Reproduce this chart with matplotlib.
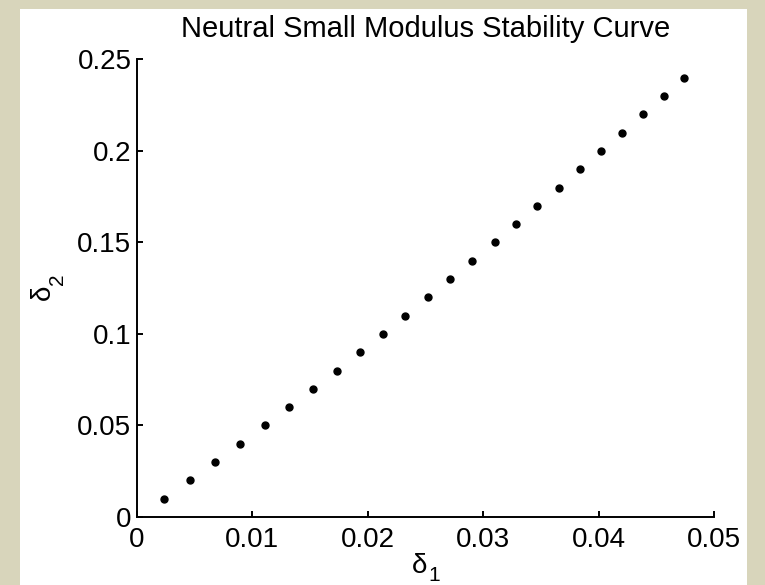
import matplotlib
matplotlib.use("Agg")
import matplotlib.pyplot as plt
from matplotlib.patches import Rectangle

plt.rcParams['font.family'] = ['Liberation Sans', 'DejaVu Sans']

title = "Neutral Small Modulus Stability Curve"
delta1 = [0.00231, 0.00457, 0.00679, 0.00893, 0.01107, 0.01317, 0.01523, 0.01730,
          0.01930, 0.02132, 0.02325, 0.02523, 0.02715, 0.02906, 0.03100, 0.03284,
          0.03469, 0.03657, 0.03839, 0.04021, 0.04200, 0.04385, 0.04564, 0.04740]
delta2 = [0.01, 0.02, 0.03, 0.04, 0.05, 0.06, 0.07, 0.08, 0.09, 0.10, 0.11, 0.12,
          0.13, 0.14, 0.15, 0.16, 0.17, 0.18, 0.19, 0.20, 0.21, 0.22, 0.23, 0.24]
xticks = [0, 0.01, 0.02, 0.03, 0.04, 0.05]
xticklabels = ['0', '0.01', '0.02', '0.03', '0.04', '0.05']
yticks = [0, 0.05, 0.1, 0.15, 0.2, 0.25]
yticklabels = ['0', '0.05', '0.1', '0.15', '0.2', '0.25']

W, H = 765, 585
fig = plt.figure(figsize=(W / 100, H / 100), dpi=100)
fig.patch.set_facecolor('#d8d5bb')
fig.patches.append(Rectangle((20 / W, 0), (747 - 20) / W, 1 - 9 / H,
                             transform=fig.transFigure, facecolor='white',
                             edgecolor='none', zorder=-10))

ax = fig.add_axes([137 / W, 1 - 517 / H, (714 - 137) / W, (517 - 59.4) / H])
ax.set_zorder(5)
ax.set_facecolor('white')
ax.plot(delta1, delta2, 'o', color='black', markersize=5, clip_on=False)

ax.set_xlim(0, 0.05)
ax.set_ylim(0, 0.25)
ax.set_xticks(xticks)
ax.set_xticklabels(xticklabels)
ax.set_yticks(yticks)
ax.set_yticklabels(yticklabels)

for s in ['top', 'right']:
    ax.spines[s].set_visible(False)
for s in ['left', 'bottom']:
    ax.spines[s].set_linewidth(1.4)
    ax.spines[s].set_color('black')

ax.tick_params(axis='both', direction='in', length=4.5, width=1.4,
               labelsize=20, colors='black')
ax.tick_params(axis='x', pad=7)
ax.tick_params(axis='y', pad=4)

ax.set_title(title, fontsize=21, pad=16)


def px(x, y):
    return x / W, 1 - y / H


# x axis label: delta with subscript 1
fig.text(*px(412, 573), '\u03b4', fontsize=20, ha='left', va='baseline')
fig.text(*px(428, 581), '1', fontsize=15, ha='left', va='baseline')
# y axis label: delta with subscript 2 (rotated)
fig.text(*px(50, 300), '\u03b4', fontsize=20, ha='left', va='baseline',
         rotation=90, rotation_mode='anchor')
fig.text(*px(63, 285), '2', fontsize=15, ha='left', va='baseline',
         rotation=90, rotation_mode='anchor')

fig.savefig('out.png', dpi=100, facecolor=fig.get_facecolor())
